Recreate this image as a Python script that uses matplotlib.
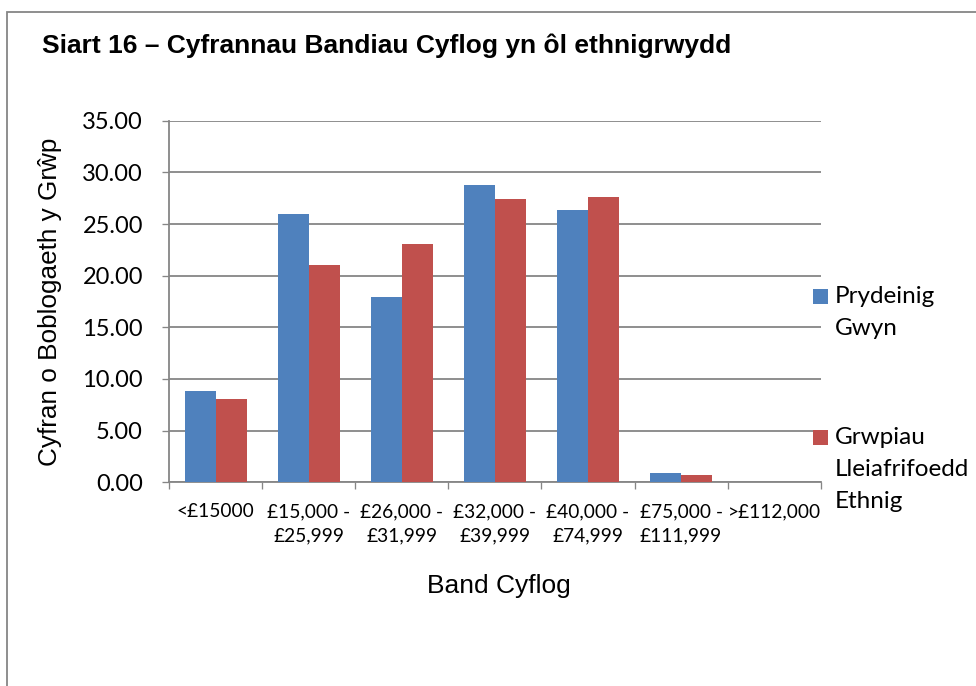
import numpy as np
import matplotlib.pyplot as plt
from matplotlib.patches import Rectangle

# --- Data ---
bands = ['<£15000', '£15,000 -\n£25,999', '£26,000 -\n£31,999', '£32,000 -\n£39,999',
         '£40,000 -\n£74,999', '£75,000 -\n£111,999', '>£112,000']
white_british = [8.81, 25.97, 17.97, 28.75, 26.33, 0.87, 0.0]
ethnic_minority = [8.06, 21.04, 23.04, 27.45, 27.62, 0.74, 0.0]
series_labels = ['Prydeinig\nGwyn', 'Grwpiau\nLleiafrifoedd\nEthnig']
y_ticks = [0, 5, 10, 15, 20, 25, 30, 35]

title = 'Siart 16 – Cyfrannau Bandiau Cyflog yn ôl ethnigrwydd'
x_title = 'Band Cyflog'
y_title = 'Cyfran o Boblogaeth y Grŵp'

# --- Style ---
BLUE = '#4F81BD'
RED = '#C0504D'
GREY = '#868686'
W, H = 976, 686
ARIAL = 'Liberation Sans'
BODY = 'Lato'


def fx(x):
    return x / W


def fy(y):
    return 1 - y / H


fig = plt.figure(figsize=(W / 100, H / 100), dpi=100)
ax = fig.add_axes([fx(169), fy(482.3), 651.7 / W, 361.6 / H])

# outer chart frame
fig.patches.append(Rectangle((fx(7), -0.1), 1.2, fy(11.5) + 0.1, transform=fig.transFigure,
                             fill=False, edgecolor=GREY, linewidth=1.3))

# --- Bars ---
x = np.arange(len(bands))
width = 1 / 3
ax.bar(x - width / 2, white_british, width, color=BLUE, zorder=3, label=series_labels[0])
ax.bar(x + width / 2, ethnic_minority, width, color=RED, zorder=3, label=series_labels[1])

# --- Axes ---
ax.set_xlim(-0.5, len(bands) - 0.5)
ax.set_ylim(0, 35)
ax.set_yticks(y_ticks)
ax.set_yticklabels([f'{v:.2f}' for v in y_ticks], fontfamily=BODY, fontsize=17)
ax.yaxis.grid(True, color=GREY, linewidth=1.3, zorder=0)
ax.set_axisbelow(True)

ax.set_xticks(x)
ax.set_xticklabels(bands, fontfamily=BODY, fontsize=13.8, linespacing=1.5)
ax.set_xticks(np.arange(len(bands) + 1) - 0.5, minor=True)
ax.tick_params(axis='x', which='major', length=0, pad=15)
ax.tick_params(axis='x', which='minor', length=4.7, width=0.95, color=GREY)
ax.tick_params(axis='y', length=4.7, width=0.95, color=GREY, pad=14)

for side in ['top', 'right']:
    ax.spines[side].set_visible(False)
for side in ['left', 'bottom']:
    ax.spines[side].set_color(GREY)
    ax.spines[side].set_linewidth(1.3)

# --- Titles ---
fig.text(fx(42), fy(53), title, fontfamily=ARIAL, fontweight='bold', fontsize=19,
         ha='left', va='baseline')
fig.text(fx(499), fy(593), x_title, fontfamily=ARIAL, fontsize=19, ha='center', va='baseline')
fig.text(fx(50), fy(302), y_title, fontfamily=ARIAL, fontsize=18.8, rotation=90,
         ha='center', va='center')

# --- Legend ---
for color, label, top in [(BLUE, series_labels[0], 289), (RED, series_labels[1], 430)]:
    fig.patches.append(Rectangle((fx(813), fy(top + 15)), 15 / W, 15 / H,
                                 transform=fig.transFigure, facecolor=color, edgecolor='none'))
    for i, line in enumerate(label.split('\n')):
        fig.text(fx(835), fy(top + 14 + 32 * i), line, fontfamily=BODY, fontsize=17.5,
                 ha='left', va='baseline')

fig.savefig('out.png', dpi=100)
